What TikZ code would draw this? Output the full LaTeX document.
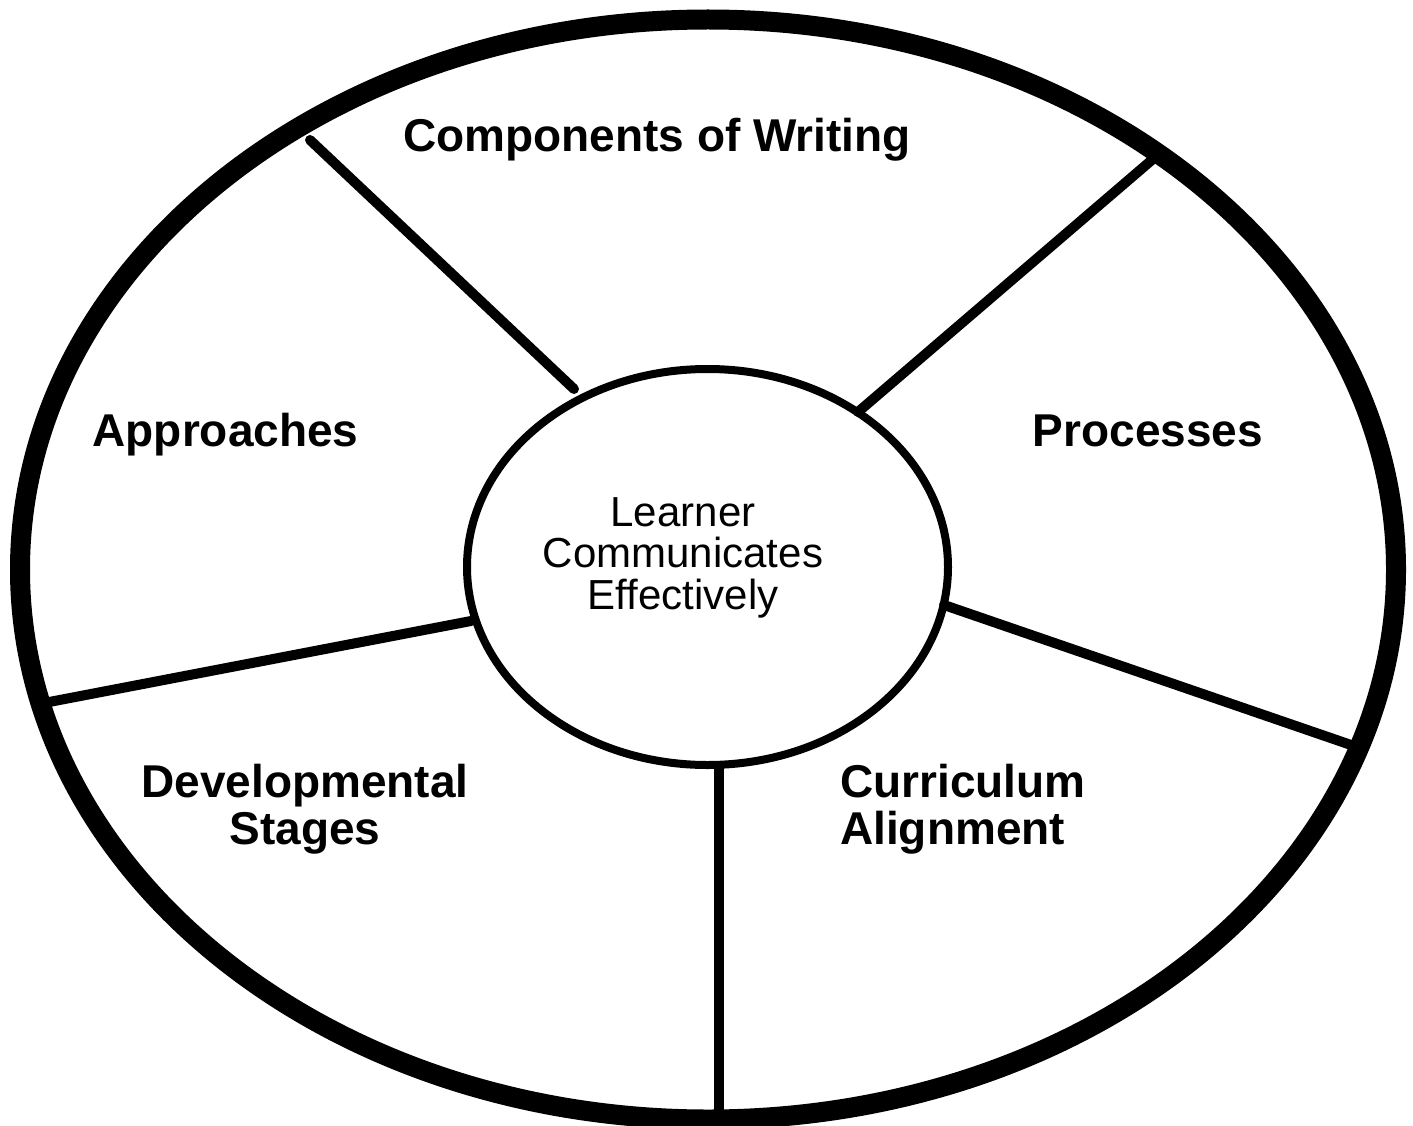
\documentclass[tikz,border=0pt]{standalone}
\usepackage{fontspec}
\setmainfont{Liberation Sans}

\begin{document}
\begin{tikzpicture}[x=1pt,y=-1pt,
    rim/.style={line width=20pt},
    hub/.style={line width=8pt},
    spoke/.style={line width=10pt,line cap=round},
    area/.style={font=\fontsize{46}{47}\selectfont\bfseries,inner sep=0pt,anchor=base},
    centre/.style={font=\fontsize{42}{41.5}\selectfont,inner sep=0pt,anchor=base,align=center}]
    \useasboundingbox (0,0) rectangle (1413,1126);
    % the wheel
    \draw[rim] (708,569.5) ellipse [x radius=688, y radius=550];
    \draw[hub] (707.5,567) ellipse [x radius=240.5, y radius=198];
    \draw[spoke] (574,389) -- (310,140);
    \draw[spoke] (858,412) -- (1160,153);
    \draw[spoke] (944,605) -- (1354,746);
    \draw[spoke] (719,766) -- (719,1116);
    \draw[spoke] (471,621) -- (44,703);
    % the labels (base = last line)
    \node[centre] (learner) at (683,609) {Learner\\Communicates\\Effectively};
    \node[area] (components) at (657,152) {Components of Writing};
    \node[area] (approaches) at (225.5,446) {Approaches};
    \node[area] (processes) at (1148,446) {Processes};
    \node[area,align=center] (stages) at (305,844) {Developmental\\Stages};
    \node[area,align=left,anchor=base west] (alignment) at (840,844) {Curriculum\\Alignment};
\end{tikzpicture}
\end{document}
